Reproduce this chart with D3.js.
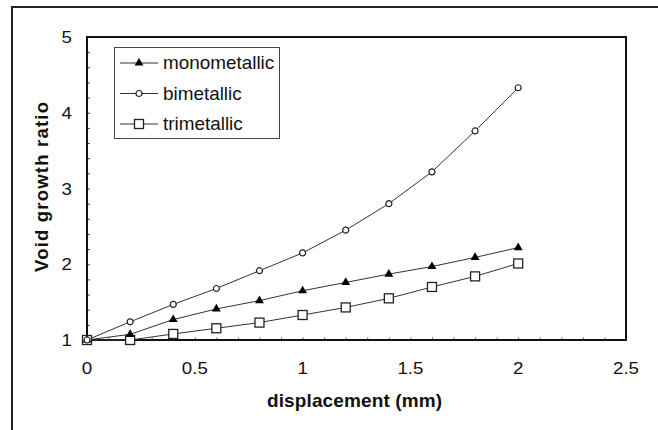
<!DOCTYPE html>
<html><head><meta charset="utf-8">
<script src="https://cdn.jsdelivr.net/npm/d3@7"></script>
<style>body{margin:0;background:#fff}svg{display:block}text{font-family:Arial,"Liberation Sans",sans-serif}</style>
</head><body><svg id="c" width="658" height="430"></svg>
<script>
const xVals = [0, 0.2, 0.4, 0.6, 0.8, 1.0, 1.2, 1.4, 1.6, 1.8, 2.0];
const mono = [1.0, 1.075, 1.27, 1.41, 1.52, 1.65, 1.76, 1.87, 1.97, 2.09, 2.22];
const bi = [1.0, 1.24, 1.47, 1.68, 1.915, 2.15, 2.45, 2.80, 3.22, 3.76, 4.33];
const tri = [1.0, 1.0, 1.08, 1.155, 1.23, 1.33, 1.43, 1.55, 1.70, 1.84, 2.01];
const seriesNames = ["monometallic", "bimetallic", "trimetallic"];
const xTicks = [0, 0.5, 1, 1.5, 2, 2.5];
const yTicks = [1, 2, 3, 4, 5];

const svg = d3.select("#c");
const L = 87, R = 626, T = 37, B = 340;
const x = d3.scaleLinear().domain([0, 2.5]).range([L, R]);
const y = d3.scaleLinear().domain([1, 5]).range([B, T]);

// outer frame
svg.append("path").attr("d", `M12,430 L12,7 L658,7`).attr("fill", "none").attr("stroke", "#222").attr("stroke-width", 2);

// minor ticks
const gx = svg.append("g").attr("transform", `translate(0,${B})`)
  .call(d3.axisBottom(x).tickValues(d3.range(0, 2.51, 0.1)).tickSize(-3).tickFormat(""));
gx.select(".domain").remove();
gx.selectAll("line").attr("stroke", "#888");
const gy = svg.append("g").attr("transform", `translate(${L},0)`)
  .call(d3.axisLeft(y).tickValues(d3.range(1, 5.01, 0.2)).tickSize(-3).tickFormat(""));
gy.select(".domain").remove();
gy.selectAll("line").attr("stroke", "#444");

// plot frame
svg.append("rect").attr("x", L).attr("y", T).attr("width", R - L).attr("height", B - T)
  .attr("fill", "none").attr("stroke", "#111").attr("stroke-width", 2);

// tick labels
svg.append("g").selectAll("text").data(xTicks).join("text")
  .attr("transform", d => `translate(${x(d)},374) scale(1.1,1)`).attr("text-anchor", "middle")
  .attr("font-size", 17).attr("fill", "#111").text(d => d);
svg.append("g").selectAll("text").data(yTicks).join("text")
  .attr("transform", d => `translate(72,${y(d) + 6}) scale(1.1,1)`).attr("text-anchor", "end")
  .attr("font-size", 17).attr("fill", "#111").text(d => d);

// axis titles
svg.append("text").attr("x", 267).attr("y", 407)
  .attr("font-size", 19).attr("font-weight", "bold").attr("fill", "#111")
  .attr("textLength", 175).attr("lengthAdjust", "spacing").text("displacement (mm)");
svg.append("text").attr("transform", "translate(48,272) rotate(-90)")
  .attr("font-size", 18.5).attr("font-weight", "bold").attr("fill", "#111")
  .attr("textLength", 170).attr("lengthAdjust", "spacing").text("Void growth ratio");

const data = [mono, bi, tri];
const line = d3.line().x((d, i) => x(xVals[i])).y(d => y(d));
data.forEach(s => {
  svg.append("path").attr("d", line(s)).attr("fill", "none").attr("stroke", "#333").attr("stroke-width", 1);
});

function marker(g, type) {
  if (type === 0) g.append("path").attr("d", d3.symbol(d3.symbolTriangle, 34)()).attr("fill", "#000");
  else if (type === 1) g.append("circle").attr("r", 3).attr("fill", "#fff").attr("stroke", "#222").attr("stroke-width", 1.2);
  else g.append("rect").attr("x", -4.5).attr("y", -4.5).attr("width", 9).attr("height", 9).attr("fill", "#fff").attr("stroke", "#222").attr("stroke-width", 1.3);
}
// draw in order: tri, mono, bi
[2, 0, 1].forEach(k => {
  data[k].forEach((v, i) => {
    const g = svg.append("g").attr("transform", `translate(${x(xVals[i])},${y(v)})`);
    marker(g, k);
  });
});

// legend
const lg = svg.append("g");
lg.append("rect").attr("x", 114.5).attr("y", 47.5).attr("width", 165).attr("height", 91)
  .attr("fill", "#fff").attr("stroke", "#444").attr("stroke-width", 1);
seriesNames.forEach((n, k) => {
  const yy = 63 + k * 30.5;
  lg.append("line").attr("x1", 120).attr("x2", 158).attr("y1", yy).attr("y2", yy).attr("stroke", "#333");
  const g = lg.append("g").attr("transform", `translate(139,${yy})`);
  marker(g, k);
  lg.append("text").attr("transform", `translate(163,${yy + 6}) scale(1.05,1)`).attr("font-size", 18).attr("fill", "#111").text(n);
});
</script></body></html>
